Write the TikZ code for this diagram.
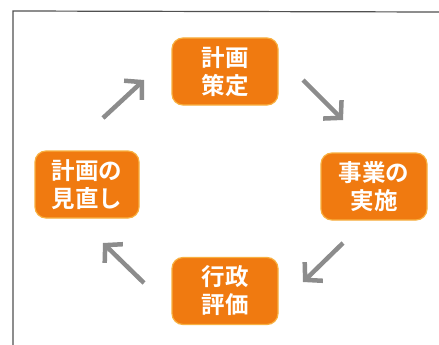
\documentclass[tikz,border=0pt]{standalone}
\usepackage{fontspec}
\newfontfamily\cjk{Noto Sans CJK JP Bold}
\usetikzlibrary{arrows.meta}
\definecolor{boxorange}{HTML}{F07A10}
\definecolor{boxedge}{HTML}{F8B040}
\definecolor{arrgray}{HTML}{8C8C8C}
\definecolor{framegray}{HTML}{505050}
\begin{document}
\begin{tikzpicture}[x=1pt,y=-1pt,
  stage/.style={draw=boxedge,line width=1.2pt,fill=boxorange,rounded corners=11pt,
    minimum width=106pt,minimum height=67pt,inner sep=0pt,text=white,
    font=\cjk\fontsize{23.5}{28}\selectfont,align=center},
  cyc/.style={draw=arrgray,line width=4.5pt,-{Straight Barb[length=12pt,width=26pt,line width=4.5pt]}}]
\useasboundingbox (0,0) rectangle (439,345);
\fill[white] (0,0) rectangle (439,345);
\draw[framegray,line width=1.2pt] (13,345) -- (13,11) -- (439,12);
\node[stage] (plan) at (225,71.5) {計画\\策定};
\node[stage] (exec) at (374,186.5) {事業の\\実施};
\node[stage] (eval) at (225,291) {行政\\評価};
\node[stage,minimum width=104pt] (review) at (87,184.5) {計画の\\見直し};
\coordinate (a1s) at (103,118); \coordinate (a1e) at (144,80);
\coordinate (a2s) at (303,80);  \coordinate (a2e) at (343,120);
\coordinate (a3s) at (343,243); \coordinate (a3e) at (303,282);
\coordinate (a4s) at (144,283); \coordinate (a4e) at (103,243);
\draw[cyc] (a1s) -- (a1e);
\draw[cyc] (a2s) -- (a2e);
\draw[cyc] (a3s) -- (a3e);
\draw[cyc] (a4s) -- (a4e);
\end{tikzpicture}
\end{document}
